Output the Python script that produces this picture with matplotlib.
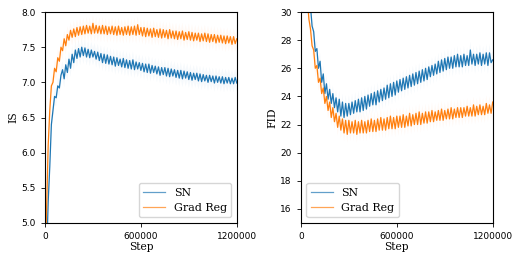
import numpy as np
import matplotlib
matplotlib.use("Agg")
import matplotlib.pyplot as plt

# training step, every 10000 iterations
steps = np.arange(0, 1200001, 10000)

is_sn = [3.6, 4.5, 5.3, 5.8, 6.4, 6.6, 6.8, 6.78, 6.95, 6.92, 7.1,
         7.18, 7.05, 7.25, 7.14, 7.33, 7.2, 7.4, 7.28, 7.46, 7.34,
         7.48, 7.36, 7.5, 7.38, 7.49, 7.36, 7.47, 7.35, 7.46, 7.36,
         7.44, 7.33, 7.43, 7.31, 7.41, 7.28, 7.40, 7.27, 7.39, 7.26,
         7.37, 7.25, 7.36, 7.23, 7.35, 7.24, 7.33, 7.22, 7.34, 7.21,
         7.32, 7.20, 7.31, 7.19, 7.32, 7.18, 7.29, 7.19, 7.28, 7.17,
         7.27, 7.15, 7.26, 7.14, 7.26, 7.13, 7.24, 7.14, 7.23, 7.12,
         7.22, 7.10, 7.21, 7.11, 7.21, 7.09, 7.20, 7.08, 7.19, 7.09,
         7.18, 7.07, 7.17, 7.06, 7.17, 7.05, 7.16, 7.06, 7.15, 7.04,
         7.14, 7.03, 7.13, 7.04, 7.13, 7.02, 7.12, 7.01, 7.11, 7.02,
         7.10, 7.00, 7.10, 7.01, 7.09, 6.99, 7.09, 7.00, 7.08, 6.99,
         7.08, 6.98, 7.07, 6.99, 7.07, 6.98, 7.06, 6.98, 7.07, 6.99]

is_gr = [4.2, 5.2, 6.1, 6.6, 6.95, 7.0, 7.2, 7.15, 7.35, 7.3, 7.5,
         7.45, 7.62, 7.52, 7.68, 7.6, 7.74, 7.64, 7.76, 7.65, 7.78,
         7.67, 7.79, 7.68, 7.8, 7.69, 7.81, 7.7, 7.8, 7.69, 7.84,
         7.7, 7.81, 7.7, 7.8, 7.69, 7.81, 7.69, 7.8, 7.68, 7.79,
         7.69, 7.8, 7.68, 7.79, 7.67, 7.8, 7.68, 7.78, 7.67, 7.79,
         7.68, 7.8, 7.67, 7.79, 7.68, 7.8, 7.67, 7.82, 7.68, 7.78,
         7.66, 7.78, 7.65, 7.77, 7.66, 7.76, 7.64, 7.77, 7.65, 7.75,
         7.64, 7.76, 7.63, 7.75, 7.64, 7.74, 7.62, 7.75, 7.63, 7.73,
         7.62, 7.73, 7.61, 7.72, 7.62, 7.73, 7.6, 7.71, 7.61, 7.72,
         7.6, 7.71, 7.59, 7.7, 7.6, 7.7, 7.58, 7.69, 7.59, 7.7,
         7.58, 7.69, 7.57, 7.68, 7.58, 7.68, 7.56, 7.67, 7.57, 7.67,
         7.56, 7.66, 7.55, 7.66, 7.56, 7.65, 7.54, 7.65, 7.55, 7.62]

fid_sn = [80, 60, 45, 38, 34, 31.5, 30.4, 29.0, 28.6, 27.2, 27.4,
          26.0, 26.5, 25.0, 25.6, 24.2, 24.9, 23.8, 24.5, 23.5, 24.2,
          23.2, 23.9, 22.9, 23.8, 22.6, 23.6, 22.5, 23.5, 22.6, 23.5,
          22.7, 23.6, 22.8, 23.7, 22.9, 23.8, 22.9, 23.9, 23.0, 24.0,
          23.1, 24.1, 23.3, 24.2, 23.4, 24.3, 23.4, 24.4, 23.6, 24.5,
          23.7, 24.6, 23.8, 24.8, 23.9, 24.9, 24.0, 25.0, 24.1, 25.1,
          24.3, 25.2, 24.4, 25.3, 24.5, 25.4, 24.6, 25.5, 24.7, 25.6,
          24.8, 25.7, 24.9, 25.8, 25.0, 25.9, 25.1, 26.0, 25.2, 26.1,
          25.4, 26.2, 25.5, 26.3, 25.6, 26.5, 25.7, 26.6, 25.8, 26.7,
          25.9, 26.8, 26.0, 26.8, 26.0, 26.9, 26.1, 27.0, 26.1, 26.9,
          26.1, 27.0, 26.2, 26.9, 26.2, 27.3, 26.3, 27.0, 26.2, 27.0,
          26.3, 27.1, 26.2, 27.0, 26.3, 27.1, 26.2, 27.1, 26.4, 26.6]

fid_gr = [70, 52, 40, 34, 31, 29.5, 28.8, 27.6, 27.3, 26.0, 26.2,
          25.0, 25.3, 24.2, 24.6, 23.5, 24.0, 23.0, 23.6, 22.5, 23.2,
          22.2, 22.8, 21.8, 22.6, 21.6, 22.4, 21.4, 22.3, 21.3, 22.3,
          21.4, 22.2, 21.4, 22.3, 21.3, 22.2, 21.4, 22.3, 21.4, 22.2,
          21.4, 22.3, 21.5, 22.4, 21.5, 22.3, 21.5, 22.4, 21.6, 22.5,
          21.6, 22.4, 21.6, 22.5, 21.7, 22.6, 21.7, 22.5, 21.7, 22.6,
          21.8, 22.6, 21.8, 22.7, 21.8, 22.6, 21.9, 22.8, 21.9, 22.7,
          22.0, 22.8, 22.0, 22.9, 22.0, 22.8, 22.1, 22.9, 22.1, 22.9,
          22.2, 23.0, 22.2, 22.9, 22.3, 23.0, 22.3, 23.1, 22.3, 23.0,
          22.4, 23.1, 22.4, 23.2, 22.4, 23.1, 22.5, 23.2, 22.5, 23.2,
          22.5, 23.2, 22.6, 23.3, 22.6, 23.2, 22.6, 23.4, 22.6, 23.3,
          22.7, 23.4, 22.7, 23.3, 22.7, 23.5, 22.8, 23.4, 22.8, 23.6]

# spread over runs (faint band)
is_std = 0.12
fid_std = 0.6

labels = ["SN", "Grad Reg"]
xticks = [0, 600000, 1200000]

fig = plt.figure(figsize=(5.17, 2.56), dpi=100)
ax1 = fig.add_axes([0.087, 0.129, 0.371, 0.824])
ax2 = fig.add_axes([0.582, 0.129, 0.371, 0.824])

def subplt(ax, ys, std, ylabel, ylim, yticks, loc):
    for y, lab in zip(ys, labels):
        y = np.array(y)
        line, = ax.plot(steps, y, linewidth=0.9, label=lab)
        ax.fill_between(steps, y - std, y + std, color=line.get_color(),
                        alpha=0.04, linewidth=0)
    ax.set_xlim(0, 1200000)
    ax.set_ylim(*ylim)
    ax.set_xticks(xticks)
    ax.set_xticklabels([str(t) for t in xticks])
    ax.set_yticks(yticks)
    ax.tick_params(labelsize=6.5, length=3, width=0.6)
    for s in ax.spines.values():
        s.set_linewidth(0.8)
    ax.set_xlabel("Step", family="serif", size=7.7, labelpad=1)
    ax.set_ylabel(ylabel, family="serif", size=7.7, labelpad=2)
    leg = ax.legend(loc=loc, prop={"family": "serif", "size": 7.9})
    for h in leg.get_lines():
        h.set_alpha(0.7)

subplt(ax1, [is_sn, is_gr], is_std, "IS", (5.0, 8.0),
       [5.0, 5.5, 6.0, 6.5, 7.0, 7.5, 8.0], "lower right")
ax1.set_yticklabels(["5.0", "5.5", "6.0", "6.5", "7.0", "7.5", "8.0"])
subplt(ax2, [fid_sn, fid_gr], fid_std, "FID", (15, 30),
       [16, 18, 20, 22, 24, 26, 28, 30], "lower left")

fig.savefig("out.png", dpi=100)
